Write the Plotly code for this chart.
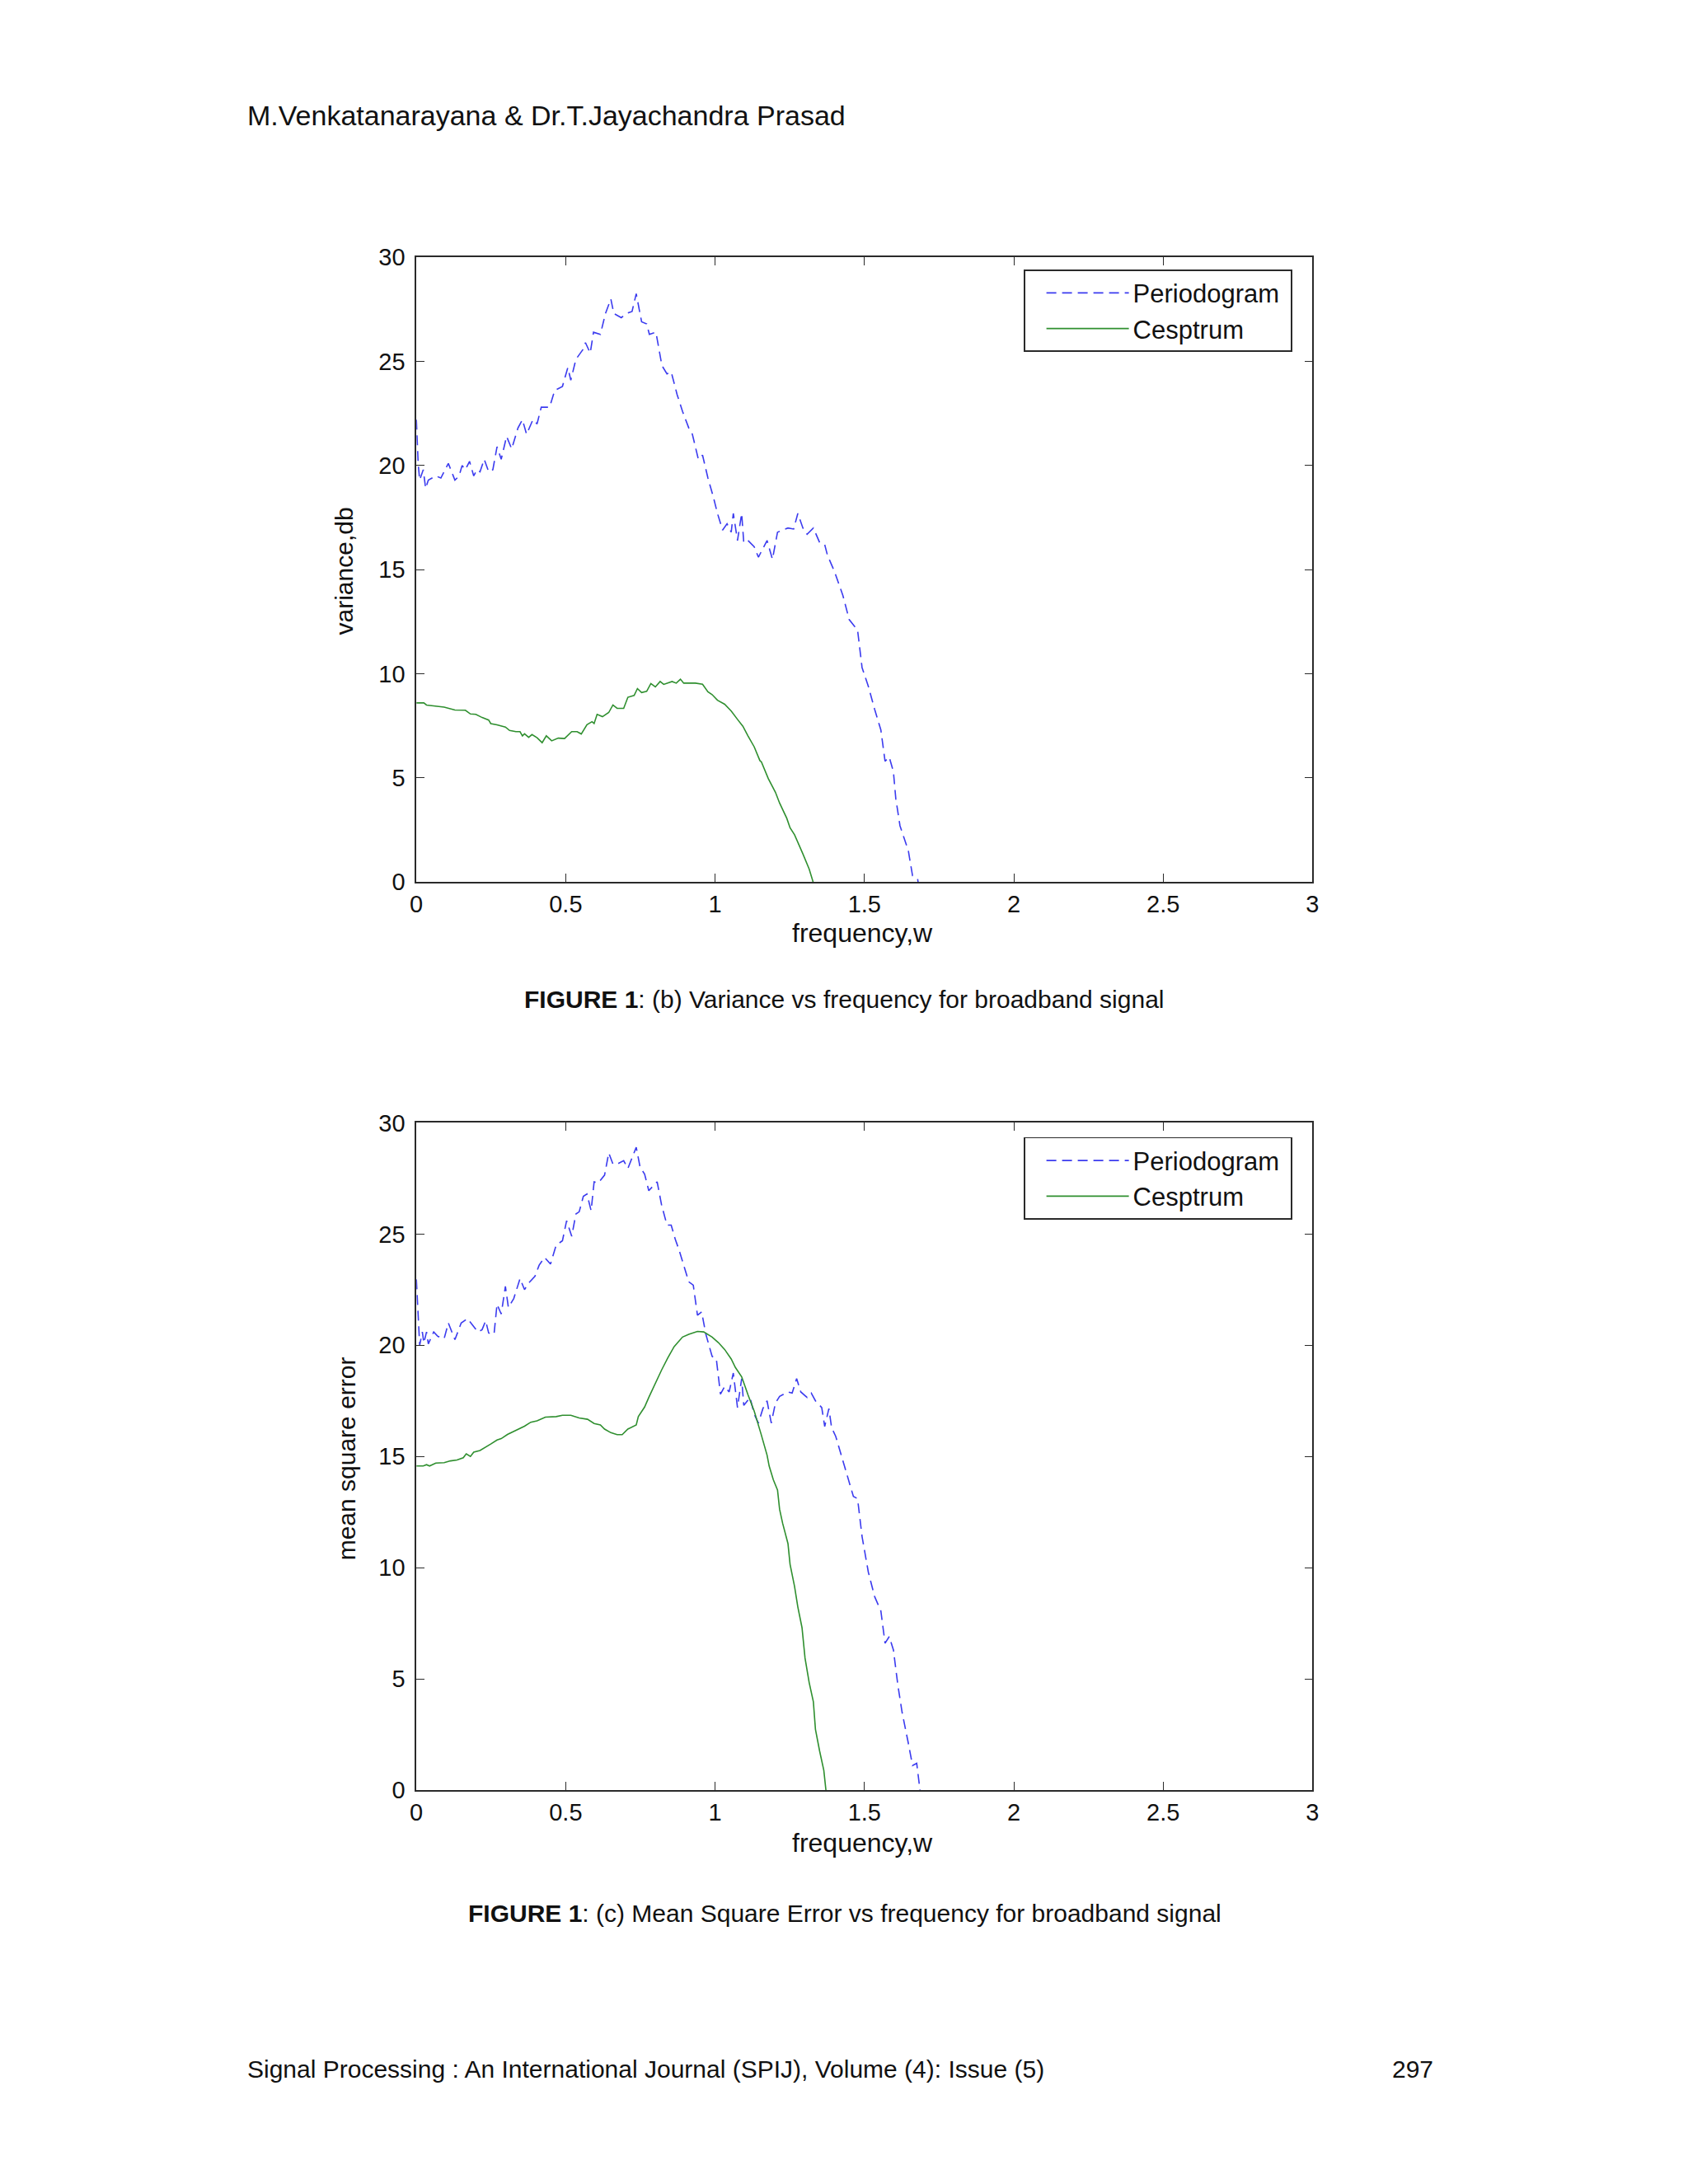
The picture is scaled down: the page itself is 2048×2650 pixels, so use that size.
import plotly.graph_objects as go

# ---------------- data ----------------
x1_per = [0, 0.006, 0.011, 0.023, 0.031, 0.04, 0.065, 0.082, 0.107, 0.129, 0.143, 0.153, 0.164, 0.178, 0.192, 0.203,
          0.213, 0.227, 0.242, 0.256, 0.27, 0.284, 0.302, 0.319, 0.34, 0.355, 0.369, 0.39, 0.404, 0.418, 0.446, 0.463,
          0.489, 0.507, 0.517, 0.534, 0.559, 0.566, 0.582, 0.593, 0.616, 0.633, 0.651, 0.661, 0.686, 0.703, 0.722,
          0.736, 0.754, 0.771, 0.78, 0.802, 0.822, 0.839, 0.853, 0.873, 0.891, 0.912, 0.924, 0.944, 0.958, 0.976,
          0.994, 1.008, 1.025, 1.04, 1.054, 1.061, 1.075, 1.089, 1.096, 1.11, 1.131, 1.145, 1.174, 1.192, 1.209,
          1.244, 1.263, 1.277, 1.294, 1.308, 1.329, 1.35, 1.367, 1.376, 1.4, 1.428, 1.449, 1.477, 1.492, 1.513,
          1.534, 1.555, 1.569, 1.583, 1.597, 1.605, 1.619, 1.647, 1.661, 1.678, 1.69]
y1_per = [22.2, 20.1, 19.3, 19.8, 18.9, 19.3, 19.5, 19.4, 20.1, 19.3, 19.5, 20.0, 19.8, 20.2, 19.5, 19.8,
          19.7, 20.3, 19.7, 19.8, 20.9, 20.3, 21.4, 20.8, 21.8, 22.2, 21.5, 22.2, 22.0, 22.8, 22.8, 23.6,
          23.8, 24.7, 24.1, 25.1, 25.6, 25.9, 25.4, 26.4, 26.3, 27.3, 28.0, 27.3, 27.1, 27.3, 27.4,
          28.25, 26.9, 26.8, 26.3, 26.4, 24.8, 24.4, 24.5, 23.4, 22.6, 21.8, 21.5, 20.3, 20.5, 19.4,
          18.5, 17.7, 16.9, 17.2, 16.8, 17.7, 16.4, 17.7, 16.3, 16.4, 16.1, 15.6, 16.4, 15.5, 16.8,
          17.0, 16.95, 17.7, 17.0, 16.7, 17.0, 16.3, 16.2, 15.7, 14.9, 13.75, 12.6, 12.1, 10.3, 9.4,
          8.3, 7.3, 5.8, 6.0, 5.3, 4.0, 2.7, 1.5, 0.3, 0.15, -1.0]

x1_cep = [0, 0.025, 0.034, 0.065, 0.093, 0.129, 0.164, 0.181, 0.199, 0.22, 0.242, 0.249, 0.27, 0.298, 0.312,
          0.333, 0.347, 0.355, 0.362, 0.376, 0.387, 0.404, 0.421, 0.435, 0.453, 0.475, 0.496, 0.52, 0.538, 0.552,
          0.571, 0.588, 0.595, 0.605, 0.623, 0.644, 0.658, 0.672, 0.694, 0.708, 0.729, 0.74, 0.754, 0.771, 0.785,
          0.8, 0.816, 0.828, 0.856, 0.87, 0.884, 0.895, 0.934, 0.958, 0.976, 0.99, 1.008, 1.032, 1.054, 1.075,
          1.093, 1.11, 1.131, 1.15, 1.155, 1.178, 1.202, 1.216, 1.24, 1.251, 1.266, 1.294, 1.315, 1.329]
y1_cep = [8.6, 8.6, 8.5, 8.44, 8.4, 8.26, 8.25, 8.07, 8.05, 7.9, 7.78, 7.61, 7.55, 7.44, 7.28,
          7.22, 7.22, 7.02, 7.12, 6.95, 7.08, 6.93, 6.69, 7.02, 6.78, 6.91, 6.89, 7.22, 7.22, 7.11,
          7.55, 7.7, 7.61, 8.05, 7.94, 8.14, 8.5, 8.34, 8.34, 8.87, 8.96, 9.29, 9.1, 9.16, 9.53,
          9.37, 9.63, 9.49, 9.63, 9.55, 9.74, 9.55, 9.55, 9.5, 9.13, 9.0, 8.73, 8.54, 8.21, 7.81,
          7.48, 7.02, 6.49, 5.83, 5.77, 4.97, 4.31, 3.79, 3.06, 2.6, 2.27, 1.35, 0.62, -0.04]

x2_per = [0, 0.006, 0.011, 0.02, 0.025, 0.034, 0.04, 0.058, 0.072, 0.093, 0.107, 0.129, 0.15, 0.171, 0.189,
          0.206, 0.22, 0.232, 0.242, 0.26, 0.27, 0.284, 0.298, 0.308, 0.326, 0.347, 0.362, 0.376, 0.397, 0.411,
          0.429, 0.449, 0.468, 0.489, 0.503, 0.52, 0.534, 0.545, 0.559, 0.571, 0.585, 0.595, 0.609, 0.63, 0.644,
          0.658, 0.672, 0.694, 0.708, 0.736, 0.749, 0.764, 0.778, 0.792, 0.806, 0.821, 0.839, 0.853, 0.867, 0.879,
          0.895, 0.912, 0.927, 0.941, 0.955, 0.969, 0.99, 1.004, 1.018, 1.032, 1.047, 1.061, 1.075, 1.089, 1.096,
          1.117, 1.131, 1.145, 1.16, 1.174, 1.188, 1.202, 1.216, 1.244, 1.258, 1.273, 1.287, 1.308, 1.322, 1.336,
          1.357, 1.367, 1.381, 1.39, 1.404, 1.428, 1.449, 1.463, 1.477, 1.492, 1.513, 1.534, 1.555, 1.562, 1.569,
          1.583, 1.597, 1.612, 1.626, 1.647, 1.661, 1.675, 1.685, 1.695]
y2_per = [22.96, 21.4, 20.0, 20.6, 20.1, 20.6, 20.06, 20.6, 20.4, 20.3, 21.0, 20.25, 21.0, 21.2, 20.9,
          20.6, 20.7, 21.1, 20.55, 20.5, 21.85, 21.4, 22.65, 21.7, 22.1, 23.0, 22.5, 22.8, 23.1, 23.6,
          23.95, 23.65, 24.5, 24.7, 25.6, 24.9, 25.9, 26.0, 26.7, 26.8, 26.05, 27.35, 27.3, 27.65, 28.65,
          28.15, 28.15, 28.3, 27.95, 28.9, 28.0, 27.7, 26.95, 27.15, 27.35, 26.3, 25.4, 25.4, 24.75, 24.3,
          23.6, 22.85, 22.7, 21.35, 21.5, 20.5, 19.5, 19.4, 17.8, 18.15, 17.9, 18.75, 17.2, 18.5, 17.3,
          17.65, 16.9, 16.5, 17.15, 17.5, 16.5, 17.4, 17.7, 17.9, 17.85, 18.5, 17.9, 17.65, 17.85, 17.5,
          17.2, 16.35, 17.15, 16.3, 15.9, 14.8, 13.8, 13.2, 13.1, 11.4, 9.8, 8.7, 8.05, 7.4, 6.6,
          6.9, 6.3, 4.7, 3.5, 2.1, 1.1, 1.2, 0.0, -1.0]

x2_cep = [0, 0.023, 0.034, 0.044, 0.065, 0.093, 0.114, 0.136, 0.157, 0.167, 0.181, 0.192, 0.213, 0.234, 0.249,
          0.27, 0.284, 0.305, 0.333, 0.362, 0.383, 0.404, 0.432, 0.468, 0.489, 0.517, 0.545, 0.573, 0.595, 0.616,
          0.63, 0.651, 0.672, 0.689, 0.708, 0.736, 0.743, 0.764, 0.778, 0.799, 0.821, 0.842, 0.863, 0.891, 0.912,
          0.941, 0.962, 0.99, 1.011, 1.032, 1.054, 1.068, 1.089, 1.11, 1.131, 1.153, 1.174, 1.181, 1.195, 1.209,
          1.216, 1.226, 1.244, 1.251, 1.266, 1.277, 1.291, 1.301, 1.315, 1.329, 1.336, 1.35, 1.364, 1.371, 1.38]
y2_cep = [14.57, 14.57, 14.63, 14.57, 14.7, 14.72, 14.8, 14.84, 14.94, 15.12, 15.0, 15.19, 15.27, 15.43, 15.56,
          15.74, 15.8, 15.99, 16.17, 16.36, 16.54, 16.6, 16.77, 16.79, 16.85, 16.85, 16.73, 16.67, 16.48, 16.42,
          16.23, 16.07, 15.98, 15.98, 16.23, 16.42, 16.79, 17.22, 17.65, 18.27, 18.89, 19.44, 19.94, 20.37, 20.49,
          20.62, 20.6, 20.37, 20.12, 19.81, 19.38, 19.0, 18.58, 17.78, 17.04, 16.05, 15.06, 14.57, 13.95, 13.49,
          12.62, 12.0, 11.08, 10.15, 9.16, 8.23, 7.3, 5.94, 4.83, 3.97, 2.73, 1.75, 0.88, 0.0, -1.0]

x_tickvals = [0, 0.5, 1, 1.5, 2, 2.5, 3]
x_ticktext = ["0", "0.5", "1", "1.5", "2", "2.5", "3"]
y_tickvals = [0, 5, 10, 15, 20, 25, 30]
y_ticktext = ["0", "5", "10", "15", "20", "25", "30"]

series_names = ["Periodogram", "Cesptrum"]
header_text = "M.Venkatanarayana & Dr.T.Jayachandra Prasad"
caption_b = "<b>FIGURE 1</b>: (b) Variance vs frequency for broadband signal"
caption_c = "<b>FIGURE 1</b>: (c) Mean Square Error vs frequency for broadband signal"
footer_text = "Signal Processing : An International Journal (SPIJ), Volume (4): Issue (5)"
page_no = "297"

# ---------------- figure ----------------
W, H = 2048, 2650
FONT = "Liberation Sans, Arial, Helvetica, sans-serif"
BLUE = "#3b3bef"
GREEN = "#2f8f2f"
AX = "#2a2a2a"
DASH = "12px,7px"
PAD = "\u00a0"   # small right padding inside the legend box


def px(x):
    return x / W


def py(y):
    return 1 - y / H


fig = go.Figure()

fig.add_trace(go.Scatter(x=x1_per, y=y1_per, mode="lines", name=series_names[0] + PAD,
                         line=dict(color=BLUE, width=1.6, dash=DASH),
                         xaxis="x", yaxis="y", legend="legend"))
fig.add_trace(go.Scatter(x=x1_cep, y=y1_cep, mode="lines", name=series_names[1] + PAD,
                         line=dict(color=GREEN, width=1.6),
                         xaxis="x", yaxis="y", legend="legend"))
fig.add_trace(go.Scatter(x=x2_per, y=y2_per, mode="lines", name=series_names[0] + PAD,
                         line=dict(color=BLUE, width=1.6, dash=DASH),
                         xaxis="x2", yaxis="y2", legend="legend2"))
fig.add_trace(go.Scatter(x=x2_cep, y=y2_cep, mode="lines", name=series_names[1] + PAD,
                         line=dict(color=GREEN, width=1.6),
                         xaxis="x2", yaxis="y2", legend="legend2"))

x_dom = [px(501.1), px(1596.9)]
y1_dom = [py(1067.1), py(299.8)]
y2_dom = [py(2182.3), py(1362.9)]

common_axis = dict(showline=True, linecolor=AX, linewidth=1.6, mirror="ticks",
                   ticks="inside", ticklen=10, tickwidth=1.4, tickcolor=AX,
                   showgrid=False, zeroline=False,
                   tickfont=dict(family=FONT, size=29, color="#111"))

legend_common = dict(xanchor="right", yanchor="top", bgcolor="white", bordercolor=AX, borderwidth=1.6,
                     font=dict(family=FONT, size=31, color="#111"), itemwidth=100, tracegroupgap=0,
                     indentation=21)

fig.update_layout(
    width=W, height=H,
    margin=dict(l=0, r=0, t=0, b=0),
    paper_bgcolor="white", plot_bgcolor="white",
    font=dict(family=FONT, color="#111"),
    xaxis=dict(domain=x_dom, anchor="y", range=[0, 3], tickvals=x_tickvals, ticktext=x_ticktext,
               ticklabelstandoff=0, **common_axis),
    yaxis=dict(domain=y1_dom, anchor="x", range=[0, 30], tickvals=y_tickvals, ticktext=y_ticktext,
               ticklabelstandoff=6, **common_axis),
    xaxis2=dict(domain=x_dom, anchor="y2", range=[0, 3], tickvals=x_tickvals, ticktext=x_ticktext,
                ticklabelstandoff=0, **common_axis),
    yaxis2=dict(domain=y2_dom, anchor="x2", range=[0, 30], tickvals=y_tickvals, ticktext=y_ticktext,
                ticklabelstandoff=6, **common_axis),
    legend=dict(x=px(1572.3), y=py(314.9), **legend_common),
    legend2=dict(x=px(1572.3), y=py(1380.5), **legend_common),
    showlegend=True,
)

annotations = [
    dict(text=header_text, x=px(292), y=py(125.2), xanchor="left", yanchor="middle", font=dict(size=34)),
    dict(text="variance,db", x=px(413), y=py(685), textangle=-90, xanchor="center", yanchor="middle",
         font=dict(size=30)),
    dict(text="frequency,w", x=px(1047), y=py(1130.1), xanchor="center", yanchor="middle", font=dict(size=32)),
    dict(text=caption_b, x=px(1025), y=py(1211.0), xanchor="center", yanchor="middle", font=dict(size=30)),
    dict(text="mean square error", x=px(416), y=py(1775), textangle=-90, xanchor="center",
         yanchor="middle", font=dict(size=30)),
    dict(text="frequency,w", x=px(1047), y=py(2247.3), xanchor="center", yanchor="middle", font=dict(size=32)),
    dict(text=caption_c, x=px(1025), y=py(2333.2), xanchor="center", yanchor="middle", font=dict(size=30)),
    dict(text=footer_text, x=px(292), y=py(2525.3), xanchor="left", yanchor="middle", font=dict(size=30)),
    dict(text=page_no, x=px(1746.3), y=py(2525.3), xanchor="right", yanchor="middle", font=dict(size=30)),
]
for a in annotations:
    a.update(xref="paper", yref="paper", showarrow=False)
    a["font"].update(family=FONT, color="#111")
fig.update_layout(annotations=annotations)

fig.write_html(
    "out.html",
    config={"displayModeBar": False},
    post_script="document.body.style.margin='0';document.body.style.padding='0';"
                "document.documentElement.style.overflow='hidden';document.body.style.overflow='hidden';",
)
